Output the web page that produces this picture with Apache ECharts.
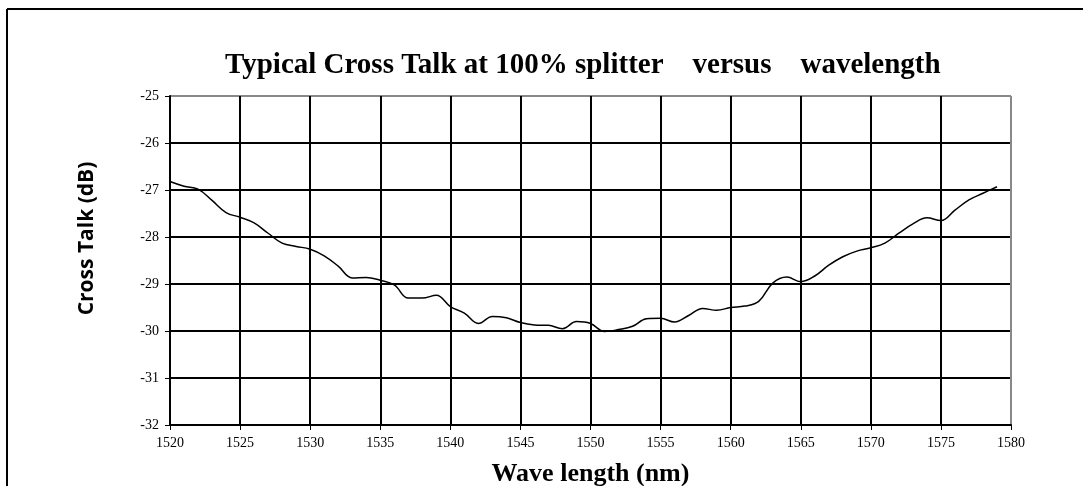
<!DOCTYPE html>
<html>
<head>
<meta charset="utf-8">
<script src="https://cdn.jsdelivr.net/npm/echarts@6/dist/echarts.min.js"></script>
<style>
	html, body { margin: 0; padding: 0; background: #fff; }
	#chart { width: 1083px; height: 486px; }
</style>
</head>
<body>
<div id="chart"></div>
<script>
// 波长 (nm)
var wavelength = [1520, 1521, 1522, 1523, 1524, 1525, 1526, 1527, 1528, 1529,
	1530, 1531, 1532, 1533, 1534, 1535, 1536, 1537, 1538, 1539,
	1540, 1541, 1542, 1543, 1544, 1545, 1546, 1547, 1548, 1549,
	1550, 1551, 1552, 1553, 1554, 1555, 1556, 1557, 1558, 1559,
	1560, 1561, 1562, 1563, 1564, 1565, 1566, 1567, 1568, 1569,
	1570, 1571, 1572, 1573, 1574, 1575, 1576, 1577, 1578, 1579];
// 串扰 (dB)
var crossTalk = [-26.82, -26.92, -26.98, -27.22, -27.48, -27.58, -27.70, -27.92, -28.13, -28.20,
	-28.26, -28.40, -28.62, -28.87, -28.86, -28.92, -29.02, -29.30, -29.30, -29.24,
	-29.48, -29.62, -29.84, -29.69, -29.72, -29.82, -29.87, -29.88, -29.95, -29.80,
	-29.84, -30.01, -29.97, -29.90, -29.74, -29.73, -29.81, -29.67, -29.52, -29.56,
	-29.50, -29.47, -29.37, -28.98, -28.85, -28.95, -28.83, -28.60, -28.42, -28.30,
	-28.23, -28.13, -27.92, -27.72, -27.59, -27.65, -27.43, -27.21, -27.07, -26.93];
// 坐标轴刻度
var xTicks = [1520, 1525, 1530, 1535, 1540, 1545, 1550, 1555, 1560, 1565, 1570, 1575, 1580];
var yTicks = [-32, -31, -30, -29, -28, -27, -26, -25];

var seriesData = [];
for (var i = 0; i < wavelength.length; i++) {
	seriesData.push([wavelength[i], crossTalk[i]]);
}

// 最后一条网格线是灰色的(图框)
var xGridColors = [];
for (var i = 0; i < xTicks.length; i++) {
	xGridColors.push(i == xTicks.length - 1 ? '#888' : '#000');
}
var yGridColors = [];
for (var i = 0; i < yTicks.length; i++) {
	yGridColors.push(i == yTicks.length - 1 ? '#888' : '#000');
}

var chart = echarts.init(document.getElementById('chart'));
var option = {
	animation: false,
	backgroundColor: '#fff',
	title: {
		text: 'Typical Cross Talk at 100% splitter    versus    wavelength',
		left: 220,
		top: 46,
		textStyle: {
			fontFamily: 'Liberation Serif',
			fontWeight: 'bold',
			fontSize: 29,
			color: '#000'
		}
	},
	graphic: [
		{ type: 'line', shape: { x1: 7, y1: 9, x2: 1083, y2: 9 }, style: { stroke: '#000', lineWidth: 2 } },
		{ type: 'line', shape: { x1: 7, y1: 9, x2: 7, y2: 486 }, style: { stroke: '#000', lineWidth: 2 } }
	],
	grid: {
		left: 170,
		top: 96,
		right: 72,
		bottom: 61,
		outerBoundsMode: 'none'
	},
	xAxis: {
		type: 'value',
		min: xTicks[0],
		max: xTicks[xTicks.length - 1],
		interval: 5,
		name: 'Wave length (nm)',
		nameLocation: 'middle',
		nameGap: 36,
		nameTextStyle: {
			fontFamily: 'Liberation Serif',
			fontWeight: 'bold',
			fontSize: 26,
			color: '#000'
		},
		axisLine: { lineStyle: { color: '#000', width: 2 } },
		axisTick: { show: true, length: 5, lineStyle: { color: '#000', width: 1 } },
		axisLabel: {
			fontFamily: 'Liberation Serif',
			fontSize: 14,
			color: '#000',
			margin: 11,
			formatter: function(v) { return String(v); }
		},
		splitLine: { show: true, lineStyle: { color: xGridColors, width: 2 } }
	},
	yAxis: {
		type: 'value',
		min: yTicks[0],
		max: yTicks[yTicks.length - 1],
		interval: 1,
		name: 'Cross Talk (dB)',
		nameLocation: 'middle',
		nameGap: 72,
		nameTextStyle: {
			fontFamily: 'Open Sans',
			fontWeight: 'bold',
			fontSize: 21,
			color: '#000',
			padding: [0, 0, 0, 44]
		},
		axisLine: { show: true, lineStyle: { color: '#000', width: 2 } },
		axisTick: { show: true, length: 5, lineStyle: { color: '#000', width: 1 } },
		axisLabel: {
			fontFamily: 'Liberation Serif',
			fontSize: 14,
			color: '#000',
			margin: 11
		},
		splitLine: { show: true, lineStyle: { color: yGridColors, width: 2 } }
	},
	series: [{
		name: 'Cross Talk',
		type: 'line',
		data: seriesData,
		smooth: 0.4,
		showSymbol: false,
		lineStyle: { color: '#000', width: 1.5 }
	}]
};
chart.setOption(option);
</script>
</body>
</html>
